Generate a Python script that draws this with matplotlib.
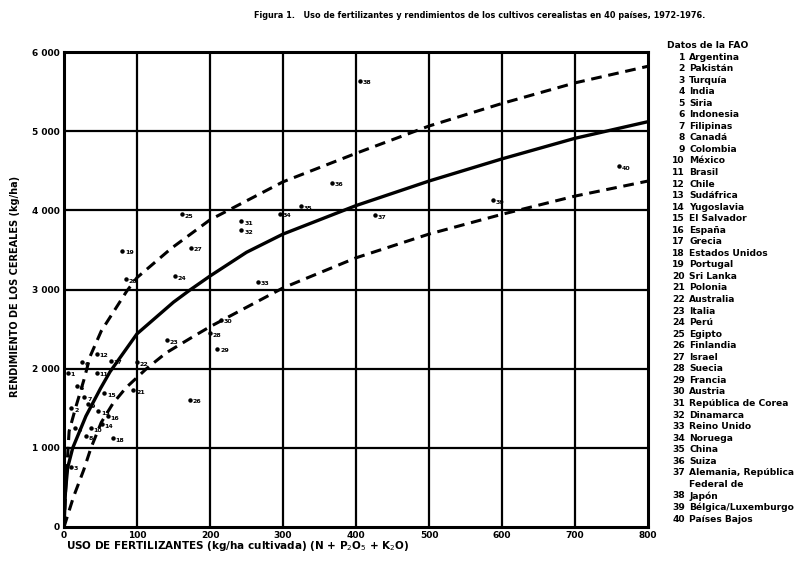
import numpy as np
import matplotlib.pyplot as plt

# curves (kg/ha fertilizer -> kg/ha cereal yield)
solid_x = [ 0, 2, 5, 12, 30, 50, 63, 100, 150, 172, 200, 250, 300, 400, 500, 600, 700, 800 ]
solid_y = [ 0, 450, 750, 1000, 1400, 1750, 1960, 2440, 2840, 2990, 3170, 3470, 3700, 4060, 4370, 4650, 4910, 5120 ]

upper_x = [ 0, 3, 7, 16, 27, 36, 51, 86, 100, 147, 200, 300, 400, 500, 600, 700, 800 ]
upper_y = [ 0, 600, 1210, 1510, 1850, 2160, 2475, 2980, 3150, 3520, 3880, 4360, 4720, 5065, 5350, 5610, 5820 ]

lower_x = [ 0, 13, 27, 37, 51, 67, 85, 113, 140, 176, 200, 300, 400, 500, 600, 700, 800 ]
lower_y = [ 0, 380, 720, 1000, 1320, 1560, 1760, 2000, 2200, 2400, 2530, 3020, 3400, 3700, 3950, 4180, 4370 ]

# countries (FAO), numbered as in the list on the right
pts_x = [ 5, 10, 10, 15, 18, 25, 28, 30, 33, 37, 45, 45, 47, 52, 55, 60, 64, 67, 80, 85,
          95, 100, 141, 152, 161, 172, 174, 200, 210, 215, 243, 243, 266, 296, 325, 367, 426, 405, 588, 760 ]
pts_y = [ 1950, 1500, 760, 1250, 1780, 2080, 1640, 1150, 1550, 1250, 1950, 2190, 1460, 1300, 1690, 1400, 2100, 1120, 3490, 3130,
          1730, 2080, 2360, 3170, 3950, 1610, 3530, 2450, 2250, 2620, 3860, 3750, 3100, 3960, 4050, 4350, 3935, 5640, 4130, 4560 ]
pts_n = list( range( 1, 41 ) )

paises = [ 'Argentina', 'Pakistán', 'Turquía', 'India', 'Siria', 'Indonesia', 'Filipinas', 'Canadá',
           'Colombia', 'México', 'Brasil', 'Chile', 'Sudáfrica', 'Yugoslavia', 'El Salvador', 'España',
           'Grecia', 'Estados Unidos', 'Portugal', 'Sri Lanka', 'Polonia', 'Australia', 'Italia', 'Perú',
           'Egipto', 'Finlandia', 'Israel', 'Suecia', 'Francia', 'Austria', 'República de Corea',
           'Dinamarca', 'Reino Unido', 'Noruega', 'China', 'Suiza', 'Alemania, República',
           'Japón', 'Bélgica/Luxemburgo', 'Países Bajos' ]

x_ticks = [ 0, 100, 200, 300, 400, 500, 600, 700, 800 ]
y_ticks = [ 0, 1000, 2000, 3000, 4000, 5000, 6000 ]
y_tick_labels = [ '0', '1 000', '2 000', '3 000', '4 000', '5 000', '6 000' ]

W, H = 802, 571
fig = plt.figure( figsize=( W / 100, H / 100 ), dpi=100 )
ax = fig.add_axes( [ 64 / W, 1 - 527 / H, ( 648 - 64 ) / W, ( 527 - 52 ) / H ] )

# grid + frame
for xv in x_ticks[ 1:-1 ]:
    ax.axvline( xv, color='black', lw=1.6, zorder=1 )
for yv in y_ticks[ 1:-1 ]:
    ax.axhline( yv, color='black', lw=1.6, zorder=1 )
for s in ax.spines.values():
    s.set_linewidth( 2.2 )

# regression curves
ax.plot( solid_x, solid_y, color='black', lw=2.4, zorder=3 )
ax.plot( upper_x, upper_y, color='black', lw=2.2, ls=( 0, ( 3.5, 2.2 ) ), zorder=3 )
ax.plot( lower_x, lower_y, color='black', lw=2.2, ls=( 0, ( 3.5, 2.2 ) ), zorder=3 )

# country points with their numbers
ax.plot( pts_x, pts_y, 'o', color='black', ms=2.2, zorder=4 )
for px, py, n in zip( pts_x, pts_y, pts_n ):
    ax.annotate( str( n ), ( px, py ), xytext=( 2, -1.5 ), textcoords='offset points',
                 fontsize=4.5, fontweight='bold', va='center', ha='left', zorder=5 )

ax.set_xlim( 0, 800 )
ax.set_ylim( 0, 6000 )
ax.set_xticks( x_ticks )
ax.set_yticks( y_ticks )
ax.set_yticklabels( y_tick_labels )
ax.tick_params( length=0, labelsize=6.5, pad=3 )
for lab in ax.get_xticklabels() + ax.get_yticklabels():
    lab.set_fontweight( 'bold' )

fig.text( 66 / W, 1 - 546 / H, 'USO DE FERTILIZANTES (kg/ha cultivada) (N + P$_2$O$_5$ + K$_2$O)',
          fontsize=7.5, fontweight='bold', ha='left', va='center' )
fig.text( 15 / W, 1 - 286 / H, 'RENDIMIENTO DE LOS CEREALES (kg/ha)', rotation=90,
          fontsize=7, fontweight='bold', ha='center', va='center' )

fig.text( 480 / W, 1 - 15 / H,
          'Figura 1.   Uso de fertilizantes y rendimientos de los cultivos cerealistas en 40 países, 1972-1976.',
          fontsize=5.9, fontweight='bold', ha='center', va='center' )

# FAO country list on the right
fig.text( 667 / W, 1 - 45 / H, 'Datos de la FAO', fontsize=6.6, fontweight='bold', va='center' )
row = 0
for i, nombre in enumerate( paises ):
    yy = 1 - ( 57 + row * 11.55 ) / H
    fig.text( 685 / W, yy, str( i + 1 ), fontsize=6.6, fontweight='bold', ha='right', va='center' )
    fig.text( 689 / W, yy, nombre, fontsize=6.6, fontweight='bold', ha='left', va='center' )
    row += 1
    if i == 36:
        fig.text( 689 / W, 1 - ( 57 + row * 11.55 ) / H, 'Federal de', fontsize=6.6,
                  fontweight='bold', ha='left', va='center' )
        row += 1

fig.savefig( 'out.png', dpi=100 )
